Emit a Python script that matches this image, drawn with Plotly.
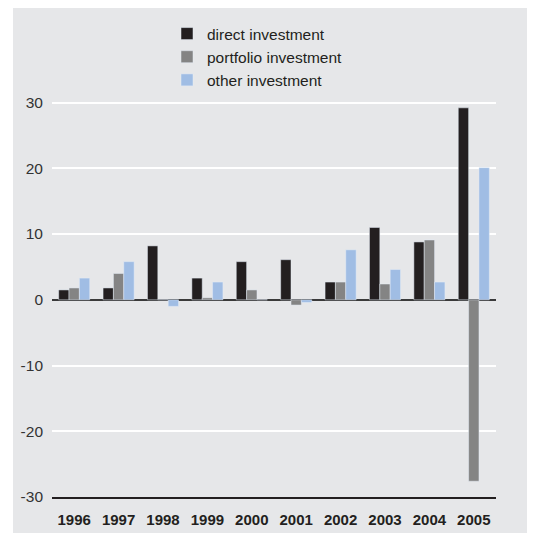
import plotly.graph_objects as go

years = ["1996", "1997", "1998", "1999", "2000", "2001", "2002", "2003", "2004", "2005"]
direct_investment = [1.5, 1.8, 8.2, 3.3, 5.8, 6.1, 2.7, 11.0, 8.8, 29.2]
portfolio_investment = [1.8, 4.0, 0.0, 0.3, 1.5, -0.8, 2.7, 2.4, 9.1, -27.6]
other_investment = [3.3, 5.8, -1.0, 2.7, 0.0, -0.4, 7.6, 4.6, 2.7, 20.1]
y_ticks = [-30, -20, -10, 0, 10, 20, 30]
y_tick_labels = ["-30", "-20", "-10", "0", "10", "20", "30"]

BG = "#e6e7e9"
FONT = "Arial, Liberation Sans, sans-serif"

fig = go.Figure()
fig.add_bar(x=years, y=direct_investment, name="direct investment", marker_color="#231f20")
fig.add_bar(x=years, y=portfolio_investment, name="portfolio investment", marker_color="#848484")
fig.add_bar(x=years, y=other_investment, name="other investment", marker_color="#a0bde4")

# page body adds an 8px offset; figure is sized to fill the rest of the window
W, H = 527, 525
L, R, T, B = 44, 39, 88, 36
pw, ph = W - L - R, H - T - B

fig.add_shape(type="rect", xref="paper", yref="paper", layer="below",
              x0=(5 - L) / pw, x1=1 + (R + 5) / pw,
              y0=-(B + 5) / ph, y1=1 + (T + 5) / ph,
              fillcolor=BG, line_width=0)

fig.update_layout(
    width=W, height=H,
    margin=dict(l=L, r=R, t=T, b=B, pad=0, autoexpand=False),
    paper_bgcolor="white", plot_bgcolor=BG,
    barmode="group", bargap=0.3, bargroupgap=0,
    font=dict(family=FONT, size=15, color="#231f20"),
    legend=dict(x=(159 - L) / pw, xanchor="left", y=1 + (T - 9) / ph, yanchor="top",
                bgcolor="rgba(0,0,0,0)", font=dict(size=15.5, color="#231f20"),
                traceorder="normal"),
    xaxis=dict(showgrid=False, showline=True, linecolor="#231f20", linewidth=2,
               automargin=False,
               ticks="", tickfont=dict(size=15, color="#231f20", family=FONT, weight="bold"),
               ticklabelstandoff=8),
    yaxis=dict(range=[-30, 31], tickvals=y_ticks, ticktext=y_tick_labels,
               automargin=False,
               showgrid=True, gridcolor="white", gridwidth=2,
               zeroline=True, zerolinecolor="#3a3a3a", zerolinewidth=2,
               ticks="", tickfont=dict(size=15.5, color="#333333"), ticklabelstandoff=8),
)

fig.write_html("out.html")
